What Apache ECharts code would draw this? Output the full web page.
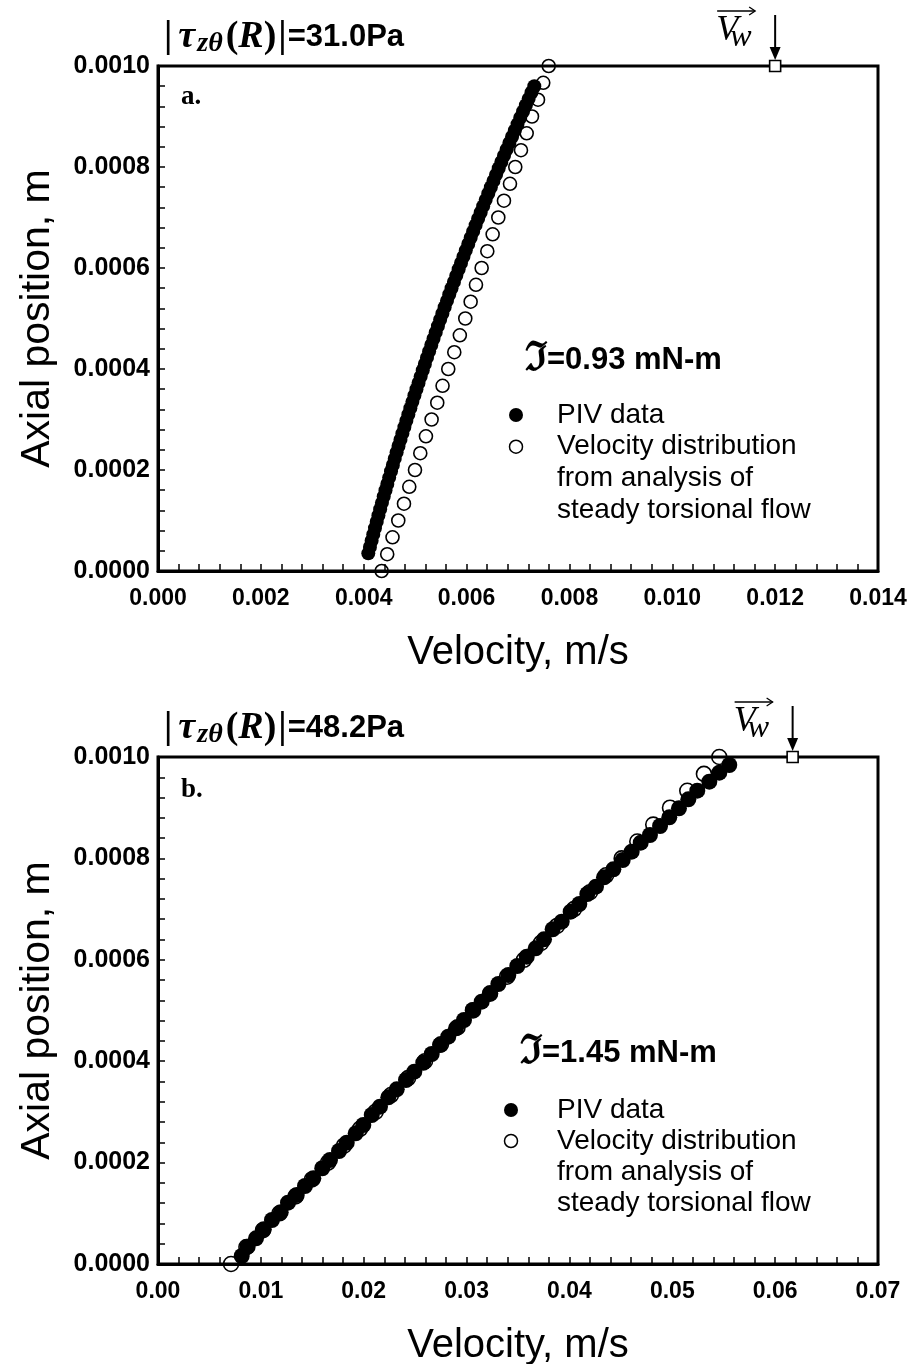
<!DOCTYPE html>
<html>
<head>
<meta charset="utf-8">
<script src="https://cdn.jsdelivr.net/npm/echarts@6/dist/echarts.min.js"></script>
<style>
html, body { margin: 0; padding: 0; background: #fff; }
#chart { width: 914px; height: 1364px; }
</style>
</head>
<body>
<div id="chart"></div>
<script>
// ---- Panel a: torque 0.93 mN-m, wall shear 31.0 Pa ----
const pivA_velocity = [
  0.004089, 0.004121, 0.004154, 0.004186, 0.004219, 0.004253, 0.004286, 0.004320, 0.004354, 0.004389,
  0.004424, 0.004459, 0.004495, 0.004531, 0.004567, 0.004603, 0.004640, 0.004677, 0.004715, 0.004752,
  0.004791, 0.004829, 0.004868, 0.004907, 0.004946, 0.004986, 0.005026, 0.005066, 0.005107, 0.005148,
  0.005189, 0.005230, 0.005272, 0.005314, 0.005357, 0.005400, 0.005443, 0.005486, 0.005530, 0.005574,
  0.005619, 0.005663, 0.005708, 0.005754, 0.005800, 0.005846, 0.005892, 0.005939, 0.005985, 0.006033,
  0.006080, 0.006128, 0.006176, 0.006225, 0.006274, 0.006323, 0.006372, 0.006422, 0.006472, 0.006523,
  0.006574, 0.006625, 0.006676, 0.006728, 0.006780, 0.006832, 0.006885, 0.006938, 0.006991, 0.007044,
  0.007098, 0.007153, 0.007207, 0.007262, 0.007317
];
const pivA_position = [
  0.0000350, 0.0000475, 0.0000600, 0.0000725, 0.0000850, 0.0000975, 0.0001100, 0.0001225, 0.0001350, 0.0001475,
  0.0001600, 0.0001725, 0.0001850, 0.0001975, 0.0002100, 0.0002225, 0.0002350, 0.0002475, 0.0002600, 0.0002725,
  0.0002850, 0.0002975, 0.0003100, 0.0003225, 0.0003350, 0.0003475, 0.0003600, 0.0003725, 0.0003850, 0.0003975,
  0.0004100, 0.0004225, 0.0004350, 0.0004475, 0.0004600, 0.0004725, 0.0004850, 0.0004975, 0.0005100, 0.0005225,
  0.0005350, 0.0005475, 0.0005600, 0.0005725, 0.0005850, 0.0005975, 0.0006100, 0.0006225, 0.0006350, 0.0006475,
  0.0006600, 0.0006725, 0.0006850, 0.0006975, 0.0007100, 0.0007225, 0.0007350, 0.0007475, 0.0007600, 0.0007725,
  0.0007850, 0.0007975, 0.0008100, 0.0008225, 0.0008350, 0.0008475, 0.0008600, 0.0008725, 0.0008850, 0.0008975,
  0.0009100, 0.0009225, 0.0009350, 0.0009475, 0.0009600
];
const theoryA_velocity = [
  0.004349, 0.004457, 0.004560, 0.004672, 0.004783, 0.004886, 0.004997, 0.005100, 0.005210, 0.005320,
  0.005430, 0.005533, 0.005644, 0.005761, 0.005869, 0.005975, 0.006079, 0.006183, 0.006293, 0.006403,
  0.006507, 0.006617, 0.006727, 0.006844, 0.006947, 0.007058, 0.007169, 0.007272, 0.007389, 0.007491,
  0.007597
];

// ---- Panel b: torque 1.45 mN-m, wall shear 48.2 Pa ----
const pivB_velocity = [
  0.00814, 0.00872, 0.00953, 0.01028, 0.01108, 0.01193, 0.01264, 0.01349, 0.01429, 0.01510,
  0.01597, 0.01672, 0.01760, 0.01835, 0.01922, 0.01996, 0.02078, 0.02158, 0.02239, 0.02321,
  0.02411, 0.02492, 0.02579, 0.02661, 0.02742, 0.02822, 0.02897, 0.02975, 0.03060, 0.03147,
  0.03228, 0.03309, 0.03406, 0.03493, 0.03585, 0.03672, 0.03753, 0.03837, 0.03925, 0.04012,
  0.04096, 0.04174, 0.04258, 0.04336, 0.04427, 0.04518, 0.04605, 0.04693, 0.04783, 0.04881,
  0.04971, 0.05065, 0.05156, 0.05243, 0.05360, 0.05457, 0.05554
];
const pivB_position = [
  0.0000158, 0.0000341, 0.0000507, 0.0000684, 0.0000868, 0.0001020, 0.0001209, 0.0001361, 0.0001538, 0.0001690,
  0.0001888, 0.0002051, 0.0002229, 0.0002393, 0.0002578, 0.0002742, 0.0002939, 0.0003103, 0.0003288, 0.0003446,
  0.0003629, 0.0003793, 0.0003970, 0.0004142, 0.0004320, 0.0004483, 0.0004649, 0.0004813, 0.0005010, 0.0005174,
  0.0005339, 0.0005523, 0.0005700, 0.0005878, 0.0006061, 0.0006227, 0.0006404, 0.0006602, 0.0006752, 0.0006949,
  0.0007101, 0.0007298, 0.0007442, 0.0007627, 0.0007785, 0.0007968, 0.0008132, 0.0008310, 0.0008462, 0.0008639,
  0.0008811, 0.0008988, 0.0009166, 0.0009335, 0.0009513, 0.0009690, 0.0009842
];
const theoryB_velocity = [
  0.00710, 0.00860, 0.01021, 0.01181, 0.01337, 0.01497, 0.01653, 0.01808, 0.01964, 0.02115,
  0.02265, 0.02431, 0.02596, 0.02751, 0.02912, 0.03063, 0.03228, 0.03393, 0.03558, 0.03724,
  0.03879, 0.04044, 0.04200, 0.04356, 0.04508, 0.04660, 0.04815, 0.04978, 0.05146, 0.05308,
  0.05457
];

// Axial stations of the steady torsional flow solution (shared by both panels)
const theory_position = [
  0.0000000, 0.0000333, 0.0000667, 0.0001000, 0.0001333, 0.0001667, 0.0002000, 0.0002333, 0.0002667, 0.0003000,
  0.0003333, 0.0003667, 0.0004000, 0.0004333, 0.0004667, 0.0005000, 0.0005333, 0.0005667, 0.0006000, 0.0006333,
  0.0006667, 0.0007000, 0.0007333, 0.0007667, 0.0008000, 0.0008333, 0.0008667, 0.0009000, 0.0009333, 0.0009667,
  0.0010000
];

// Wall (rotating plate) velocity at the gap height
const wallA = [0.0120, 0.0010];
const wallB = [0.0617, 0.0010];

// Axis ranges [min, max, interval] and label decimals
const xAxisA = [0, 0.014, 0.002];
const xAxisB = [0, 0.07, 0.01];
const yAxisAll = [0, 0.001, 0.0002];
const xDecimalsA = 3, xDecimalsB = 2, yDecimals = 4;

// Panel annotations
const shearLabels = ['31.0Pa', '48.2Pa'];
const torqueLabels = ['=0.93 mN-m', '=1.45 mN-m'];
const panelTags = ['a.', 'b.'];
const legendLines = ['PIV data', 'Velocity distribution', 'from analysis of', 'steady torsional flow'];

const SANS = "'Liberation Sans', Arial, Helvetica, sans-serif";
const SERIF = "'Liberation Serif', 'Times New Roman', serif";

const pairs = (xs, ys) => xs.map((v, i) => [v, ys[i]]);

const chart = echarts.init(document.getElementById('chart'), null, { renderer: 'canvas' });

function xAxisCfg(gridIndex, range, dec) {
  return {
    type: 'value', gridIndex,
    min: range[0], max: range[1], interval: range[2],
    name: 'Velocity, m/s', nameLocation: 'middle', nameGap: 62, nameMoveOverlap: false,
    nameTextStyle: { fontFamily: SANS, fontSize: 40, color: '#000' },
    axisLine: { show: true, onZero: false, lineStyle: { color: '#000', width: 3 } },
    axisTick: { show: true, inside: true, length: 7, lineStyle: { color: '#000', width: 1.5 } },
    minorTick: { show: true, splitNumber: 5, length: 7, lineStyle: { color: '#000', width: 1.5 } },
    splitLine: { show: false }, minorSplitLine: { show: false },
    axisLabel: { margin: 16, color: '#000', fontFamily: SANS, fontWeight: 'bold', fontSize: 23,
      formatter: v => v.toFixed(dec) }
  };
}
function yAxisCfg(gridIndex, range, dec) {
  return {
    type: 'value', gridIndex,
    min: range[0], max: range[1], interval: range[2],
    name: 'Axial position, m', nameLocation: 'middle', nameGap: 100, nameMoveOverlap: false,
    nameTextStyle: { fontFamily: SANS, fontSize: 41, color: '#000' },
    axisLine: { show: true, onZero: false, lineStyle: { color: '#000', width: 3 } },
    axisTick: { show: true, inside: true, length: 7, lineStyle: { color: '#000', width: 1.5 } },
    minorTick: { show: true, splitNumber: 5, length: 7, lineStyle: { color: '#000', width: 1.5 } },
    splitLine: { show: false }, minorSplitLine: { show: false },
    axisLabel: { margin: 8, color: '#000', fontFamily: SANS, fontWeight: 'bold', fontSize: 25,
      formatter: v => v.toFixed(dec) }
  };
}

const openStyle = { color: 'rgba(0,0,0,0)', borderColor: '#000', borderWidth: 1.6, opacity: 1 };
const filledStyle = { color: '#000', opacity: 1 };
const wallStyle = { color: '#fff', borderColor: '#000', borderWidth: 1.6, opacity: 1 };

chart.setOption({
  backgroundColor: '#fff',
  animation: false,
  grid: [
    { left: 158, right: 36, top: 66, height: 505, show: true, borderColor: '#000', borderWidth: 3,
      containLabel: false, outerBoundsMode: 'none' },
    { left: 158, right: 36, top: 757, height: 507, show: true, borderColor: '#000', borderWidth: 3,
      containLabel: false, outerBoundsMode: 'none' }
  ],
  xAxis: [xAxisCfg(0, xAxisA, xDecimalsA), xAxisCfg(1, xAxisB, xDecimalsB)],
  yAxis: [yAxisCfg(0, yAxisAll, yDecimals), yAxisCfg(1, yAxisAll, yDecimals)],
  series: [
    { type: 'scatter', name: 'theoryA', xAxisIndex: 0, yAxisIndex: 0, clip: false,
      symbol: 'circle', symbolSize: 13, itemStyle: openStyle, data: pairs(theoryA_velocity, theory_position) },
    { type: 'scatter', name: 'pivA', xAxisIndex: 0, yAxisIndex: 0, clip: false,
      symbol: 'circle', symbolSize: 14, itemStyle: filledStyle, data: pairs(pivA_velocity, pivA_position) },
    { type: 'scatter', name: 'wallA', xAxisIndex: 0, yAxisIndex: 0, clip: false, z: 5,
      symbol: 'rect', symbolSize: 11, itemStyle: wallStyle, data: [wallA] },
    { type: 'scatter', name: 'theoryB', xAxisIndex: 1, yAxisIndex: 1, clip: false,
      symbol: 'circle', symbolSize: 15, itemStyle: openStyle, data: pairs(theoryB_velocity, theory_position) },
    { type: 'scatter', name: 'pivB', xAxisIndex: 1, yAxisIndex: 1, clip: false,
      symbol: 'circle', symbolSize: 16, itemStyle: filledStyle, data: pairs(pivB_velocity, pivB_position) },
    { type: 'scatter', name: 'wallB', xAxisIndex: 1, yAxisIndex: 1, clip: false, z: 5,
      symbol: 'rect', symbolSize: 11, itemStyle: wallStyle, data: [wallB] }
  ]
});

// ---- Annotations: titles, torque, legend, wall-velocity arrow ----
function shearTitle(x, cy, value) {
  return {
    type: 'text', x, y: cy, z: 10,
    style: {
      text: '{b||}{i|τ}{sub|zθ}{p|(}{r|R}{q|)}{c||}{v|=' + value + '}',
      verticalAlign: 'middle', align: 'left',
      rich: {
        b: { fontFamily: SERIF, fontSize: 38, fontWeight: 'bold', lineHeight: 42, verticalAlign: 'middle', fill: '#000', padding: [0, 3, 0, 0] },
        i: { fontFamily: SERIF, fontSize: 38, fontWeight: 'bold', fontStyle: 'italic', lineHeight: 42, verticalAlign: 'middle', fill: '#000', padding: [0, 2, 0, 3] },
        sub: { fontFamily: SERIF, fontSize: 28, fontWeight: 'bold', fontStyle: 'italic', lineHeight: 24, verticalAlign: 'bottom', fill: '#000', padding: [0, 3, 0, 0] },
        p: { fontFamily: SERIF, fontSize: 38, fontWeight: 'bold', lineHeight: 42, verticalAlign: 'middle', fill: '#000' },
        r: { fontFamily: SERIF, fontSize: 38, fontWeight: 'bold', fontStyle: 'italic', lineHeight: 42, verticalAlign: 'middle', fill: '#000' },
        q: { fontFamily: SERIF, fontSize: 38, fontWeight: 'bold', lineHeight: 42, verticalAlign: 'middle', fill: '#000', padding: [0, 2, 0, 0] },
        c: { fontFamily: SERIF, fontSize: 38, fontWeight: 'bold', lineHeight: 42, verticalAlign: 'middle', fill: '#000', padding: [0, 1, 0, 0] },
        v: { fontFamily: SANS, fontSize: 31, fontWeight: 'bold', lineHeight: 42, verticalAlign: 'middle', fill: '#000' }
      }
    }
  };
}
function torqueText(x, cy, value) {
  return {
    type: 'text', x, y: cy, z: 10,
    style: {
      text: '{f|ℑ}{t|' + value + '}', verticalAlign: 'middle', align: 'left',
      rich: {
        f: { fontFamily: "'DejaVu Serif', serif", fontSize: 40, fontWeight: 'bold', fill: '#000' },
        t: { fontFamily: SANS, fontSize: 31, fontWeight: 'bold', fill: '#000' }
      }
    }
  };
}
function legendBlock(mx, tx, y0, gap) {
  const els = [
    { type: 'circle', shape: { cx: mx, cy: y0, r: 7 }, style: { fill: '#000' }, z: 10 },
    { type: 'circle', shape: { cx: mx, cy: y0 + gap, r: 6.5 }, style: { fill: 'none', stroke: '#000', lineWidth: 1.5 }, z: 10 }
  ];
  legendLines.forEach((t, i) => {
    els.push({ type: 'text', x: tx, y: y0 + i * gap, z: 10,
      style: { text: t, fontFamily: SANS, fontSize: 28, fill: '#000', verticalAlign: 'middle', align: 'left' } });
  });
  return els;
}
function tagText(x, cy, t) {
  return { type: 'text', x, y: cy, z: 10,
    style: { text: t, fontFamily: SERIF, fontSize: 27, fontWeight: 'bold', fill: '#000', verticalAlign: 'middle', align: 'left' } };
}
function wallArrow(p) {
  const [px, py] = p;
  return [
    { type: 'line', shape: { x1: px, y1: py - 51, x2: px, y2: py - 18 }, style: { stroke: '#000', lineWidth: 2 }, z: 10 },
    { type: 'polygon', shape: { points: [[px - 5.5, py - 19], [px + 5.5, py - 19], [px, py - 6]] }, style: { fill: '#000' }, z: 10 },
    { type: 'text', x: px - 59, y: py - 35, z: 10,
      style: { text: 'V', fontFamily: SERIF, fontSize: 36, fontStyle: 'italic', fill: '#000', verticalAlign: 'middle', align: 'left' } },
    { type: 'text', x: px - 45, y: py - 28, z: 10,
      style: { text: 'w', fontFamily: SERIF, fontSize: 32, fontStyle: 'italic', fill: '#000', verticalAlign: 'middle', align: 'left' } },
    { type: 'polyline', shape: { points: [[px - 58, py - 55], [px - 20, py - 55]] }, style: { stroke: '#000', lineWidth: 1.3, fill: 'none' }, z: 10 },
    { type: 'polyline', shape: { points: [[px - 26, py - 59], [px - 20, py - 55], [px - 26, py - 51]] }, style: { stroke: '#000', lineWidth: 1.3, fill: 'none' }, z: 10 }
  ];
}

const pA = chart.convertToPixel({ xAxisIndex: 0, yAxisIndex: 0 }, wallA);
const pB = chart.convertToPixel({ xAxisIndex: 1, yAxisIndex: 1 }, wallB);

chart.setOption({
  graphic: [
    shearTitle(164, 37, shearLabels[0]),
    shearTitle(164, 728, shearLabels[1]),
    tagText(181, 97, panelTags[0]),
    tagText(181, 790, panelTags[1]),
    torqueText(525, 360, torqueLabels[0]),
    torqueText(520, 1053, torqueLabels[1]),
    ...legendBlock(516, 557, 415, 31.7),
    ...legendBlock(511, 557, 1110, 31),
    ...wallArrow(pA),
    ...wallArrow(pB)
  ]
});
</script>
</body>
</html>
